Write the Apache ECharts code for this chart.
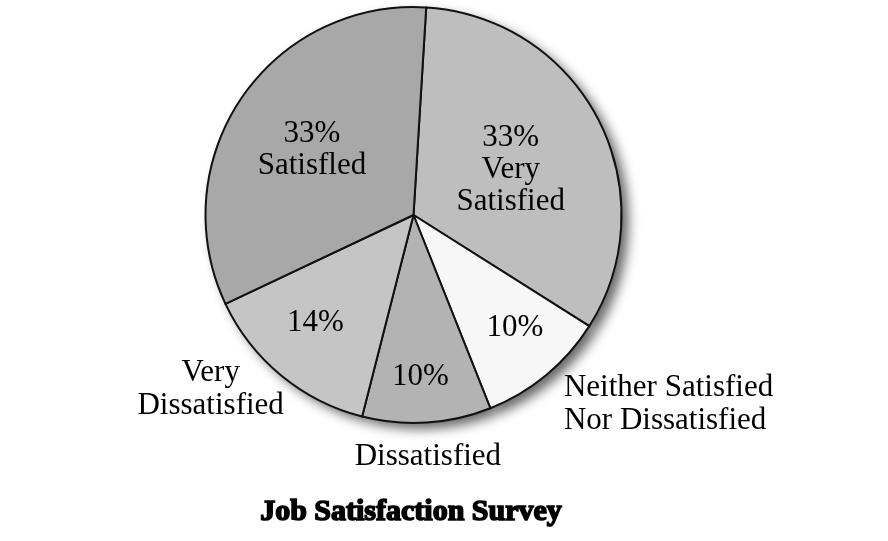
<!DOCTYPE html>
<html>
<head>
<meta charset="utf-8">
<script src="https://cdn.jsdelivr.net/npm/echarts@6/dist/echarts.min.js"></script>
<style>
  html, body { margin: 0; padding: 0; background: #fff; }
  #main { width: 888px; height: 541px; }
</style>
</head>
<body>
<div id="main"></div>
<script>
  // data, clockwise from the top
  var categories = ['Very Satisfied', 'Neither Satisfied\nNor Dissatisfied', 'Dissatisfied', 'Very\nDissatisfied', 'Satisfled']
  var shares = [33, 10, 10, 14, 33]
  var innerNames = ['Very\nSatisfied', '', '', '', 'Satisfled']   // names written inside the slice
  var outerNames = [false, true, true, true, false]                // names written outside
  var sliceColors = ['#bebebe', '#f7f7f7', '#b3b3b3', '#c5c5c5', '#a8a8a8']

  // label nudges (px), index follows data
  var innerShift = [[2, 4], [33, 31], [0, 55], [-30, 25], [-13, -5]]
  var outerShift = [[0, 0], [3, 18], [-5, 19], [-56, 2], [0, 0]]
  var outerAlign = ['left', 'left', 'center', 'center', 'left']

  var chartDom = document.getElementById('main')
  var myChart = echarts.init(chartDom)

  var serif = '"Liberation Serif", "Times New Roman", serif'
  var center = [413.5, 215]
  var radius = 208

  var pieData = categories.map(function (c, i) {
    return {
      name: c,
      value: shares[i],
      itemStyle: { color: sliceColors[i] }
    }
  })

  var labelData = categories.map(function (c, i) {
    return {
      name: c,
      value: shares[i],
      label: { show: outerNames[i] }
    }
  })

  var base = {
    type: 'pie',
    center: center,
    radius: [0, radius],
    startAngle: 86.5,
    clockwise: true,
    avoidLabelOverlap: false,
    emphasis: { disabled: true }
  }

  var option = {
    backgroundColor: '#fff',
    animation: false,
    title: {
      text: 'Job Satisfaction Survey',
      left: 406,
      textAlign: 'center',
      top: 492,
      textStyle: {
        fontFamily: serif,
        fontWeight: 'bold',
        fontSize: 30,
        color: '#000',
        textBorderColor: '#000',
        textBorderWidth: 1.6
      }
    },
    series: [
      // drop shadow under the pie
      Object.assign({}, base, {
        z: 1,
        silent: true,
        itemStyle: {
          color: '#777',
          shadowBlur: 12,
          shadowOffsetX: 7,
          shadowOffsetY: 6,
          shadowColor: 'rgba(0,0,0,0.6)'
        },
        label: { show: false },
        labelLine: { show: false },
        data: shares.slice()
      }),
      // visible slices with the inside labels
      Object.assign({}, base, {
        z: 2,
        itemStyle: {
          borderColor: '#111',
          borderWidth: 2
        },
        label: {
          position: 'inside',
          fontFamily: serif,
          fontSize: 31,
          lineHeight: 32,
          color: '#000',
          formatter: function (p) {
            var t = p.value + '%'
            if (innerNames[p.dataIndex]) t += '\n' + innerNames[p.dataIndex]
            return t
          }
        },
        labelLine: { show: false },
        labelLayout: function (p) {
          var s = innerShift[p.dataIndex]
          return { dx: s[0], dy: s[1] }
        },
        data: pieData
      }),
      // names written outside the pie
      Object.assign({}, base, {
        z: 3,
        silent: true,
        itemStyle: { color: 'rgba(0,0,0,0)' },
        label: {
          position: 'outside',
          formatter: '{b}',
          fontFamily: serif,
          fontSize: 31,
          lineHeight: 33,
          color: '#000',
          distanceToLabelLine: 5
        },
        labelLine: { show: false, length: 15, length2: 0 },
        labelLayout: function (p) {
          var s = outerShift[p.dataIndex]
          return { dx: s[0], dy: s[1], align: outerAlign[p.dataIndex] }
        },
        data: labelData
      })
    ]
  }

  option && myChart.setOption(option)
</script>
</body>
</html>
